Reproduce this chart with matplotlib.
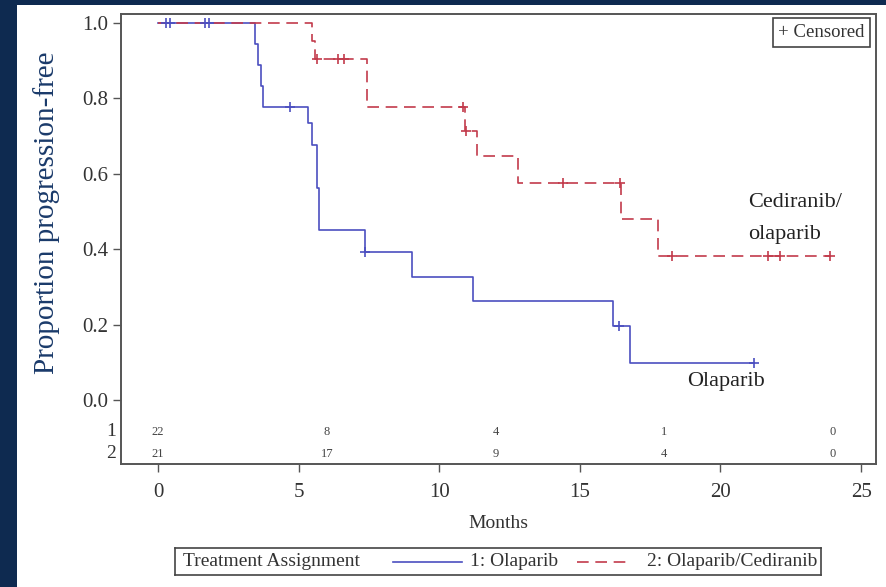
import numpy as np
import matplotlib.pyplot as plt
from matplotlib.patches import Rectangle

plt.rcParams['font.family'] = ['Liberation Serif', 'DejaVu Serif']

# arm 1: Olaparib, step times (months) and proportion progression-free after each step
ola_times = [0, 3.45, 3.55, 3.65, 3.75, 5.34, 5.46, 5.64, 5.72, 7.36, 9.02, 11.2, 16.18, 16.79, 21.2]
ola_surv = [1.0, 0.944, 0.889, 0.833, 0.778, 0.734, 0.676, 0.562, 0.451, 0.393, 0.327, 0.262, 0.196, 0.098, 0.098]
ola_cens = [0.28, 0.43, 1.67, 1.81, 4.7, 7.36, 16.4, 21.2]

# arm 2: Olaparib/Cediranib
ced_times = [0, 5.48, 5.58, 7.42, 10.9, 11.33, 12.8, 16.48, 17.78, 23.9]
ced_surv = [1.0, 0.952, 0.905, 0.778, 0.713, 0.647, 0.575, 0.479, 0.383, 0.383]
ced_cens = [5.65, 6.4, 6.6, 10.86, 10.94, 14.4, 16.42, 18.27, 21.7, 22.1, 23.9]

# numbers at risk
risk_times = [0, 6, 12, 18, 24]
risk_ola = [22, 8, 4, 1, 0]
risk_ced = [21, 17, 9, 4, 0]

x_ticks = [0, 5, 10, 15, 20, 25]
y_ticks = [0.0, 0.2, 0.4, 0.6, 0.8, 1.0]

BLUE = '#4b4fc0'
RED = '#c23b4c'
NAVY = '#0e2a50'
GREY = '#333333'


def surv_at(times, surv, t):
    idx = np.searchsorted(times, t, side='right') - 1
    return np.asarray(surv)[idx]


fig = plt.figure(figsize=(8.87, 5.87), dpi=100, facecolor=NAVY)
fig.add_artist(Rectangle((17 / 887, 0), 1, 1 - 5 / 587, transform=fig.transFigure,
                         facecolor='white', edgecolor='none', zorder=0))

ax = fig.add_axes([121 / 887, 1 - 464 / 587, 755 / 887, 450 / 587])
ax.set_facecolor('white')

ax.step(ola_times, ola_surv, where='post', color=BLUE, lw=1.2, zorder=2)
ax.step(ced_times, ced_surv, where='post', color=RED, lw=1.2, dashes=(7, 4), zorder=3)
ax.plot(ola_cens, surv_at(ola_times, ola_surv, ola_cens), ls='none', marker='+',
        ms=7, mew=1.2, color=BLUE, zorder=4)
ax.plot(ced_cens, surv_at(ced_times, ced_surv, ced_cens), ls='none', marker='+',
        ms=7, mew=1.2, color=RED, zorder=4)

ax.set_xlim(-1.316, 25.53)
ax.set_ylim(-0.17, 1.024)
ax.set_xticks(x_ticks)
ax.set_yticks(y_ticks)
ax.set_yticklabels([f'{v:.1f}' for v in y_ticks])
ax.tick_params(axis='both', direction='out', length=6, width=1, color='#555555',
               labelsize=15, labelcolor=GREY)
ax.tick_params(axis='x', pad=8)
ax.tick_params(axis='y', pad=3)
for s in ax.spines.values():
    s.set_color('#555555')
    s.set_linewidth(1.4)

# risk table inside the axes
for t, a, b in zip(risk_times, risk_ola, risk_ced):
    ax.text(t, -0.084, str(a), ha='center', va='center', fontsize=9, color='#444444')
    ax.text(t, -0.143, str(b), ha='center', va='center', fontsize=9, color='#444444')
trans = ax.get_yaxis_transform()
ax.text(-0.007, -0.084, '1', transform=trans, ha='right', va='center', fontsize=14, color=GREY)
ax.text(-0.007, -0.143, '2', transform=trans, ha='right', va='center', fontsize=14, color=GREY)

# curve labels
ax.text(21.0, 0.525, 'Cediranib/', ha='left', va='center', fontsize=16, color='#222222')
ax.text(21.0, 0.44, 'olaparib', ha='left', va='center', fontsize=16, color='#222222')
ax.text(18.8, 0.05, 'Olaparib', ha='left', va='center', fontsize=16, color='#222222')

ax.text(0.985, 0.978, '+ Censored', transform=ax.transAxes, ha='right', va='top',
        fontsize=13.5, color=GREY,
        bbox=dict(boxstyle='square,pad=0.3', facecolor='white', edgecolor='#444444', lw=1.2))

fig.text(0.053, 0.637, 'Proportion progression-free', rotation=90, ha='center',
         va='center', fontsize=21, color='#1a3a6a')
fig.text(498 / 887, 1 - 524 / 587, 'Months', ha='center', va='center', fontsize=14, color=GREY)

# legend strip at the bottom
lax = fig.add_axes([175 / 887, 1 - 575 / 587, 646 / 887, 27 / 587])
lax.set_xlim(175, 821)
lax.set_ylim(0, 1)
lax.set_xticks([])
lax.set_yticks([])
for s in lax.spines.values():
    s.set_color('#444444')
    s.set_linewidth(1.2)
lax.text(183, 0.5, 'Treatment Assignment', va='center', fontsize=14, color=GREY)
lax.plot([393, 462], [0.5, 0.5], color=BLUE, lw=1.2)
lax.text(470, 0.5, '1: Olaparib', va='center', fontsize=14, color=GREY)
lax.plot([577, 630], [0.5, 0.5], color=RED, lw=1.2, dashes=(7, 4))
lax.text(647, 0.5, '2: Olaparib/Cediranib', va='center', fontsize=14, color=GREY)

fig.savefig('out.png', dpi=100, facecolor=fig.get_facecolor())
